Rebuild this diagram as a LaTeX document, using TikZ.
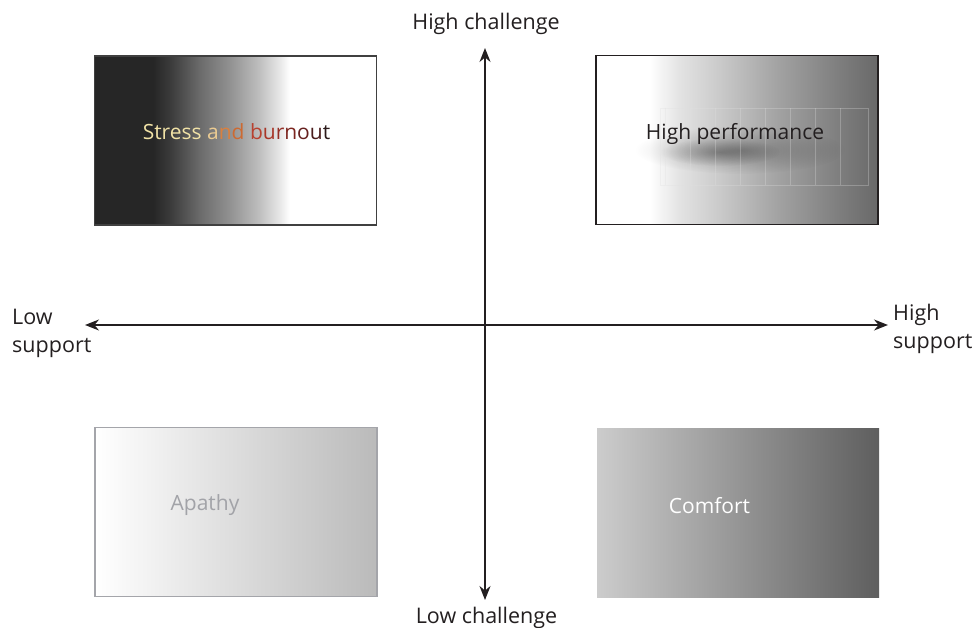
\documentclass[tikz,border=0pt]{standalone}
\usepackage{fontspec}
\setmainfont{Open Sans}
\usetikzlibrary{arrows.meta,positioning,fadings}

\definecolor{ink}{HTML}{231F20}
\definecolor{apathytext}{HTML}{A2A3A8}
\definecolor{apathyline}{HTML}{A4A5AA}

% horizontal fills, the box spans 25bp..75bp
\pgfdeclarehorizontalshading{stressshade}{100bp}{%
  color(0bp)=(black!85); color(35.4bp)=(black!85);
  color(38.4bp)=(black!77); color(43.7bp)=(black!58);
  color(49bp)=(black!43); color(54.3bp)=(black!25);
  color(57.9bp)=(black!9); color(59.6bp)=(white); color(100bp)=(white)}
\pgfdeclarehorizontalshading{perfshade}{100bp}{%
  color(0bp)=(white); color(34.5bp)=(white);
  color(39.8bp)=(black!11); color(47bp)=(black!21);
  color(57.7bp)=(black!37); color(68.4bp)=(black!51);
  color(75bp)=(black!59); color(100bp)=(black!59)}

\tikzfading[name=haze, inner color=transparent!75, outer color=transparent!100]

\begin{document}
\begin{tikzpicture}[x=1pt,y=-1pt,
      quadbox/.style={
         rectangle,
         inner sep=0pt,
         minimum width=282pt,
         minimum height=169pt},
      quadtext/.style={anchor=base, font=\fontsize{21}{24}\selectfont},
      axislabel/.style={font=\fontsize{21.5}{28}\selectfont, text=ink, inner sep=0pt},
      myarrow/.style={{Stealth[length=14pt,width=11pt]}-{Stealth[length=14pt,width=11pt]},
         line width=1.5pt, draw=ink}
      ]
      \useasboundingbox (0,0) rectangle (976,628);

      % the four quadrants
      \node[quadbox, shade, shading=stressshade, draw=black!75, line width=1.5pt] (stress) at (235.5,140.5) {};
      \node[quadbox, shade, shading=perfshade, draw=ink, line width=1.5pt] (perf) at (737,140) {};
      \node[quadbox, left color=white, right color=black!27, draw=apathyline, line width=1.5pt] (apathy) at (236,512) {};
      \node[quadbox, left color=black!20, right color=black!63] (comfort) at (738,513) {};

      % smudge and stray frames behind the high performance title
      \fill[black, path fading=haze] (740,150) ellipse (105pt and 24pt);
      \fill[black, path fading=haze] (720,152) ellipse (60pt and 14pt);
      \foreach \x in {665,690,715,740,765,790,815,840}
        \draw[white!88!black, opacity=0.3, line width=0.4pt] (\x,108) -- (\x,185);
      \draw[white!88!black, opacity=0.3, line width=0.4pt] (660,108) rectangle (868,185);

      \node[quadtext] (stresstxt) at (236.5,140) {%
        \textcolor[HTML]{F1E2A6}{Stress }\textcolor[HTML]{EBCB92}{a}%
        \textcolor[HTML]{D9803F}{n}\textcolor[HTML]{CD6A32}{d }%
        \textcolor[HTML]{B8412F}{b}\textcolor[HTML]{A83628}{u}\textcolor[HTML]{952E25}{r}%
        \textcolor[HTML]{7D2620}{n}\textcolor[HTML]{66201F}{o}\textcolor[HTML]{4A1C1C}{u}%
        \textcolor[HTML]{2C1A1A}{t}};
      \node[quadtext, text=ink] (perftxt) at (735,140) {High performance};
      \node[quadtext, text=apathytext] (apathytxt) at (205,510) {Apathy};
      \node[quadtext, text=white] (comforttxt) at (709.5,513) {Comfort};

      % axes
      \coordinate (west) at (85,325);
      \coordinate (east) at (888,325);
      \coordinate (top) at (485,48);
      \coordinate (bottom) at (485,600);
      \draw[myarrow] (west) -- (east);
      \draw[myarrow] (bottom) -- (top);

      \node[axislabel, anchor=base] (highch) at (486,30) {High challenge};
      \node[axislabel, anchor=base] (lowch) at (486.5,623) {Low challenge};
      \node[axislabel, align=left, anchor=west] (lowsup) at (12,333) {Low\\support};
      \node[axislabel, align=left, anchor=west] (highsup) at (893,329) {High\\support};

    \end{tikzpicture}
\end{document}
